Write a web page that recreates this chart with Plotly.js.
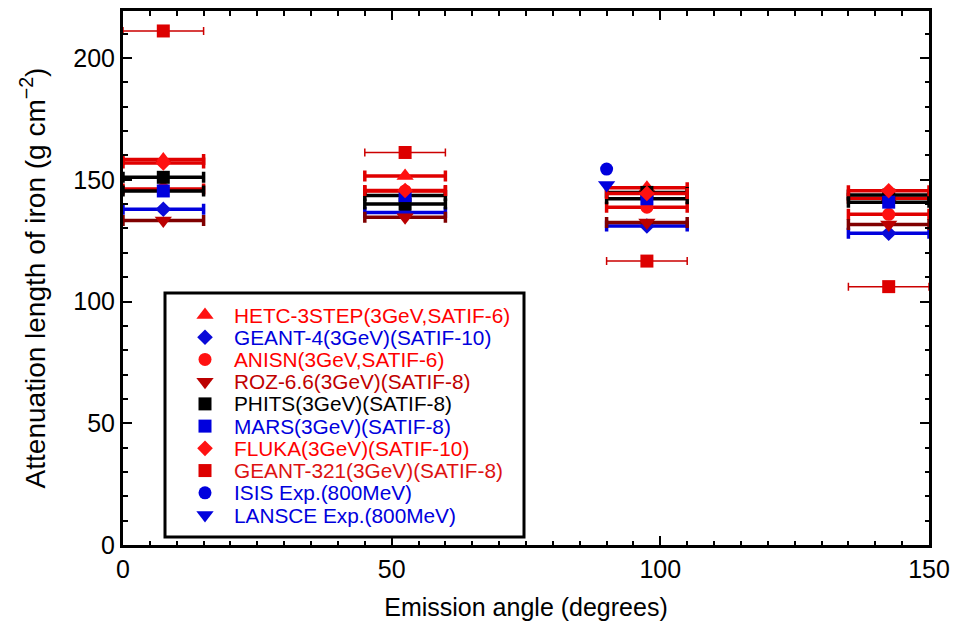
<!DOCTYPE html>
<html>
<head>
<meta charset="utf-8">
<script src="https://cdn.plot.ly/plotly-3.0.1.min.js"></script>
<style>
  html, body { margin: 0; padding: 0; background: #fff; }
  #chart { width: 956px; height: 626px; }
</style>
</head>
<body>
<div id="chart"></div>
<script>
// Emission angles of the four detector bins (degrees) and their half-width
const angles = [7.5, 52.5, 97.5, 142.5];
const binHalfWidth = 7.5;

// Attenuation lengths of iron (g cm^-2) for each code at the four angles
const hetc3step = [158.3, 151.5, 146.7, 142.4];
const geant4    = [137.9, 136.5, 131.0, 128.0];
const anisn     = [146.2, 145.4, 138.7, 135.8];
const roz66     = [133.3, 134.6, 132.4, 131.6];
const phits     = [151.0, 140.0, 144.8, 143.7];
const mars      = [145.4, 143.5, 142.2, 140.8];
const fluka     = [156.9, 145.6, 144.4, 145.5];
const geant321  = [211.1, 161.2, 116.6, 106.1];

// Experimental points at 800 MeV
const expAngle   = [90];
const isisExp    = [154.4];
const lansceExp  = [147.8];

const seriesNames = [
  'HETC-3STEP(3GeV,SATIF-6)',
  'GEANT-4(3GeV)(SATIF-10)',
  'ANISN(3GeV,SATIF-6)',
  'ROZ-6.6(3GeV)(SATIF-8)',
  'PHITS(3GeV)(SATIF-8)',
  'MARS(3GeV)(SATIF-8)',
  'FLUKA(3GeV)(SATIF-10)',
  'GEANT-321(3GeV)(SATIF-8)',
  'ISIS Exp.(800MeV)',
  'LANSCE Exp.(800MeV)'
];

const FONT = 'Liberation Sans, Arial, Helvetica, sans-serif';

// Visual style for each series: marker symbol/size/colour, bar colour/weight, label colour
const styles = [
  {sym: 'triangle-up',   size: 15, color: '#ff1111', bar: '#e00000', thick: 3.5, cap: 5.5, text: '#ff0000'},
  {sym: 'diamond',       size: 12, color: '#0a0ad8', bar: '#0000dd', thick: 3.5, cap: 5.5, text: '#0000dd'},
  {sym: 'circle',        size: 13, color: '#ff1111', bar: '#e00000', thick: 3.5, cap: 5.5, text: '#ff0000'},
  {sym: 'triangle-down', size: 15, color: '#bb0000', bar: '#800000', thick: 3.5, cap: 5.5, text: '#c00000'},
  {sym: 'square',        size: 13, color: '#000000', bar: '#000000', thick: 3.5, cap: 5.5, text: '#000000'},
  {sym: 'square',        size: 13, color: '#0000dd', bar: '#000000', thick: 3.5, cap: 5.5, text: '#0000dd'},
  {sym: 'diamond',       size: 12, color: '#ff1111', bar: '#e00000', thick: 3.5, cap: 5.5, text: '#ff0000'},
  {sym: 'square',        size: 13, color: '#dd0000', bar: '#cc0000', thick: 1.5, cap: 4,   text: '#dd1111'},
  {sym: 'circle',        size: 13, color: '#0000dd', bar: null,      thick: 0,   cap: 0,   text: '#0000dd'},
  {sym: 'triangle-down', size: 15, color: '#0000dd', bar: null,      thick: 0,   cap: 0,   text: '#0000dd'}
];

const seriesX = [angles, angles, angles, angles, angles, angles, angles, angles, expAngle, expAngle];
const seriesY = [hetc3step, geant4, anisn, roz66, phits, mars, fluka, geant321, isisExp, lansceExp];

const traces = [];

// Main data: markers with horizontal bin-width bars
seriesNames.forEach((name, i) => {
  const s = styles[i];
  const t = {
    type: 'scatter', mode: 'markers', name: name,
    x: seriesX[i], y: seriesY[i],
    xaxis: 'x', yaxis: 'y',
    showlegend: false, hoverinfo: 'skip',
    marker: {symbol: s.sym, size: s.size, color: s.color, line: {width: 0}}
  };
  if (s.bar) {
    t.error_x = {type: 'constant', value: binHalfWidth, color: s.bar,
                 thickness: s.thick, width: s.cap};
  }
  traces.push(t);
});

// Key: one marker per row on a hidden helper axis pair inside the boxed key area
const keyMarkerX = 40;
const keyTextX = 67;
seriesNames.forEach((name, i) => {
  const s = styles[i];
  traces.push({
    type: 'scatter', mode: 'markers',
    x: [keyMarkerX], y: [i],
    xaxis: 'x2', yaxis: 'y2',
    showlegend: false, hoverinfo: 'skip',
    marker: {symbol: s.sym, size: s.size, color: s.color, line: {width: 0}}
  });
});

const annotations = seriesNames.map((name, i) => ({
  xref: 'x2', yref: 'y2', x: keyTextX, y: i,
  text: name, showarrow: false,
  xanchor: 'left', yanchor: 'middle',
  font: {family: FONT, size: 20.8, color: styles[i].text}
}));

const axisCommon = {
  showline: true, linewidth: 3, linecolor: '#000', mirror: 'ticks',
  ticks: 'inside', ticklen: 9, tickwidth: 2, tickcolor: '#000',
  showgrid: false, zeroline: false,
  tickfont: {family: FONT, size: 25, color: '#000'}
};

const layout = {
  width: 956, height: 626,
  margin: {l: 123, r: 27, t: 11, b: 81},
  paper_bgcolor: '#fff', plot_bgcolor: '#fff',
  font: {family: FONT, color: '#000'},
  showlegend: false,
  xaxis: Object.assign({}, axisCommon, {
    range: [0, 150], dtick: 50, tick0: 0,
    minor: {dtick: 5, ticklen: 4.5, tickwidth: 2, ticks: 'inside', tickcolor: '#000'},
    title: {text: 'Emission angle (degrees)', font: {family: FONT, size: 25}, standoff: 17}
  }),
  yaxis: Object.assign({}, axisCommon, {
    range: [0, 219.3], dtick: 50, tick0: 0,
    minor: {dtick: 10, ticklen: 4.5, tickwidth: 2, ticks: 'inside', tickcolor: '#000'},
    title: {text: 'Attenuation length of iron (g cm<sup>−2</sup>)', font: {family: FONT, size: 28}, standoff: 20}
  }),
  xaxis2: {
    domain: [(165 - 123) / 806, (524 - 123) / 806], anchor: 'y2',
    range: [0, 359], visible: false, fixedrange: true
  },
  yaxis2: {
    domain: [(545 - 537) / 534, (545 - 293) / 534], anchor: 'x2',
    range: [9.99, -0.99], visible: false, fixedrange: true
  },
  shapes: [{
    type: 'rect', xref: 'x2 domain', yref: 'y2 domain',
    x0: 0, x1: 1, y0: 0, y1: 1,
    line: {color: '#000', width: 3}, fillcolor: 'rgba(0,0,0,0)', layer: 'above'
  }],
  annotations: annotations
};

Plotly.newPlot('chart', traces, layout, {displayModeBar: false, staticPlot: true});
</script>
</body>
</html>
